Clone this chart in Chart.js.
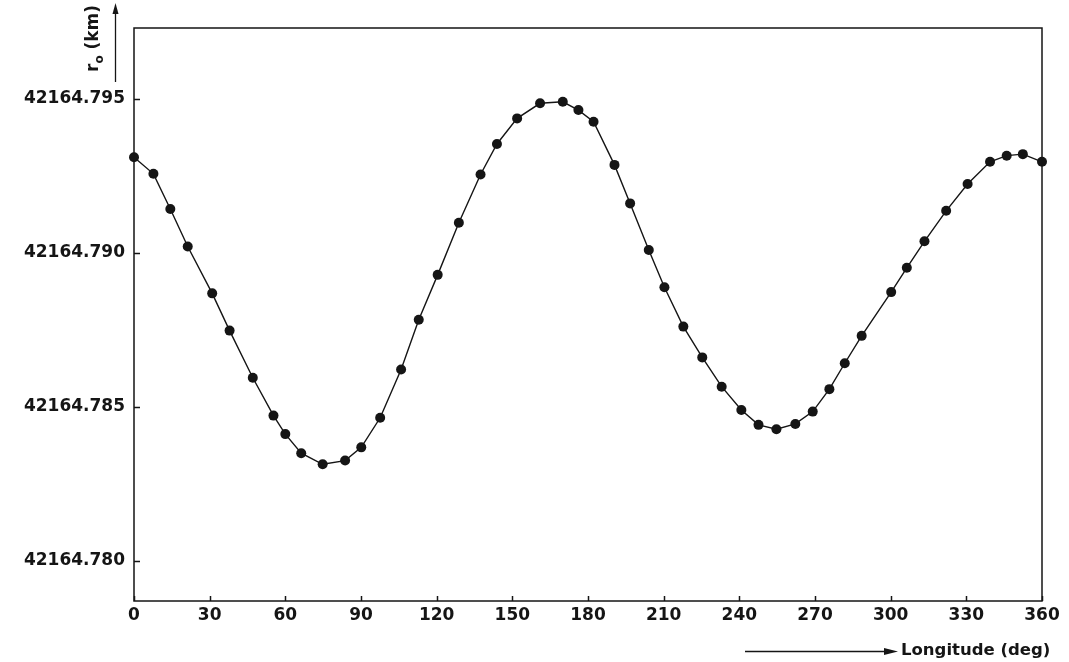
<!DOCTYPE html>
<html><head><meta charset="utf-8">
<script src="https://cdn.jsdelivr.net/npm/chart.js@4/dist/chart.umd.min.js"></script>
<style>html,body{margin:0;padding:0;background:#fff}#wrap{width:1069px;height:662px;position:relative}</style>
</head><body><div id="wrap"><canvas id="c" width="1069" height="662"></canvas></div>
<script>
// Longitude (deg) of each plotted point
const longitudes = [0, 7.7, 14.4, 21.3, 31.0, 37.9, 47.1, 55.3, 60.0, 66.3, 74.8, 83.7, 90.1, 97.6, 105.9, 112.9, 120.4, 128.8, 137.4, 143.9, 151.9, 161.0, 170.0, 176.2, 182.2, 190.5, 196.7, 204.1, 210.3, 217.8, 225.3, 233.0, 240.8, 247.6, 254.7, 262.2, 269.1, 275.7, 281.8, 288.5, 300.2, 306.4, 313.4, 322.0, 330.5, 339.4, 346.0, 352.4, 360];
// r_o (km)
const radii = [42164.79311, 42164.79257, 42164.79143, 42164.79021, 42164.78869, 42164.78748, 42164.78595, 42164.78472, 42164.78412, 42164.78350, 42164.78314, 42164.78326, 42164.78369, 42164.78465, 42164.78622, 42164.78783, 42164.78929, 42164.79098, 42164.79255, 42164.79354, 42164.79437, 42164.79486, 42164.79491, 42164.79464, 42164.79426, 42164.79286, 42164.79161, 42164.79010, 42164.78889, 42164.78761, 42164.78661, 42164.78566, 42164.78490, 42164.78442, 42164.78428, 42164.78445, 42164.78485, 42164.78558, 42164.78642, 42164.78731, 42164.78873, 42164.78952, 42164.79038, 42164.79137, 42164.79224, 42164.79296, 42164.79316, 42164.79321, 42164.79296];
const xTickValues = [0, 30, 60, 90, 120, 150, 180, 210, 240, 270, 300, 330, 360];
const xTickLabels = ['0', '30', '60', '90', '120', '150', '180', '210', '240', '270', '300', '330', '360'];
const yTickValues = [42164.780, 42164.785, 42164.790, 42164.795];
const yTickLabels = ['42164.780', '42164.785', '42164.790', '42164.795'];
const yMin = 42164.778701, yMax = 42164.797305;
const xTitle = 'Longitude (deg)';

const AREA = {left: 134, right: 1042, top: 28, bottom: 601};
const INK = '#151515';
const FONT = 'DejaVu Sans';

const framePlugin = {
  id: 'frame',
  afterDraw(chart) {
    const c = chart.ctx, a = chart.chartArea;
    const xs = chart.scales.x, ys = chart.scales.y;
    c.save();
    c.strokeStyle = INK; c.fillStyle = INK; c.lineWidth = 1.5;
    c.strokeRect(a.left, a.top, a.right - a.left, a.bottom - a.top);
    // inward ticks
    c.beginPath();
    yTickValues.forEach(v => { const y = Math.round(ys.getPixelForValue(v)) + 0.5; c.moveTo(a.left, y); c.lineTo(a.left + 6, y); });
    xTickValues.forEach(v => { const x = Math.round(xs.getPixelForValue(v)) + 0.5; c.moveTo(x, a.bottom); c.lineTo(x, a.bottom - 5); });
    c.stroke();
    // y axis title r_o (km), rotated
    c.save();
    c.translate(98, 72); c.rotate(-Math.PI / 2);
    c.textBaseline = 'alphabetic'; c.textAlign = 'left';
    c.font = 'bold 17px "' + FONT + '"';
    c.fillText('r', 0, 0);
    let w = c.measureText('r').width;
    c.font = 'bold 12px "' + FONT + '"';
    c.fillText('o', w, 5);
    w += c.measureText('o').width;
    c.font = 'bold 17px "' + FONT + '"';
    c.fillText(' (km)', w, 0);
    c.restore();
    // y arrow
    c.lineWidth = 1.3;
    c.beginPath(); c.moveTo(115.5, 82); c.lineTo(115.5, 12); c.stroke();
    c.beginPath(); c.moveTo(115.5, 3); c.lineTo(112.5, 14); c.lineTo(118.5, 14); c.closePath(); c.fill();
    // x arrow
    c.beginPath(); c.moveTo(745, 651.5); c.lineTo(886, 651.5); c.stroke();
    c.beginPath(); c.moveTo(898, 651.5); c.lineTo(884, 648); c.lineTo(884, 655); c.closePath(); c.fill();
    // x title
    c.font = 'bold 16.5px "' + FONT + '"';
    c.textBaseline = 'middle'; c.textAlign = 'left';
    c.fillText(xTitle, 901, 651);
    c.restore();
  }
};

new Chart(document.getElementById('c'), {
  type: 'scatter',
  data: {
    datasets: [{
      data: longitudes.map((x, i) => ({x: x, y: radii[i]})),
      showLine: true,
      borderColor: INK,
      borderWidth: 1.4,
      pointRadius: 5,
      pointBackgroundColor: INK,
      pointBorderColor: INK,
      pointBorderWidth: 0,
      tension: 0,
      clip: false
    }]
  },
  options: {
    responsive: false,
    animation: false,
    devicePixelRatio: 1,
    events: [],
    plugins: {legend: {display: false}, tooltip: {enabled: false}},
    layout: {padding: {top: AREA.top, right: 1069 - AREA.right, left: 0, bottom: 0}},
    scales: {
      x: {
        type: 'linear', min: 0, max: 360,
        afterBuildTicks: s => { s.ticks = xTickValues.map(v => ({value: v})); },
        afterFit: s => { s.height = 662 - AREA.bottom; },
        grid: {display: false, drawTicks: false},
        border: {display: false},
        ticks: {padding: 4, color: INK, font: {family: FONT, size: 17, weight: 'bold'}, maxRotation: 0, autoSkip: false,
                callback: (v, i) => xTickLabels[i]}
      },
      y: {
        type: 'linear', min: yMin, max: yMax,
        afterBuildTicks: s => { s.ticks = yTickValues.map(v => ({value: v})); },
        afterFit: s => { s.width = AREA.left; },
        grid: {display: false, drawTicks: false},
        border: {display: false},
        ticks: {padding: 9, color: INK, font: {family: FONT, size: 17, weight: 'bold'}, autoSkip: false,
                callback: (v, i) => yTickLabels[i]}
      }
    }
  },
  plugins: [framePlugin]
});
</script>
</body></html>
